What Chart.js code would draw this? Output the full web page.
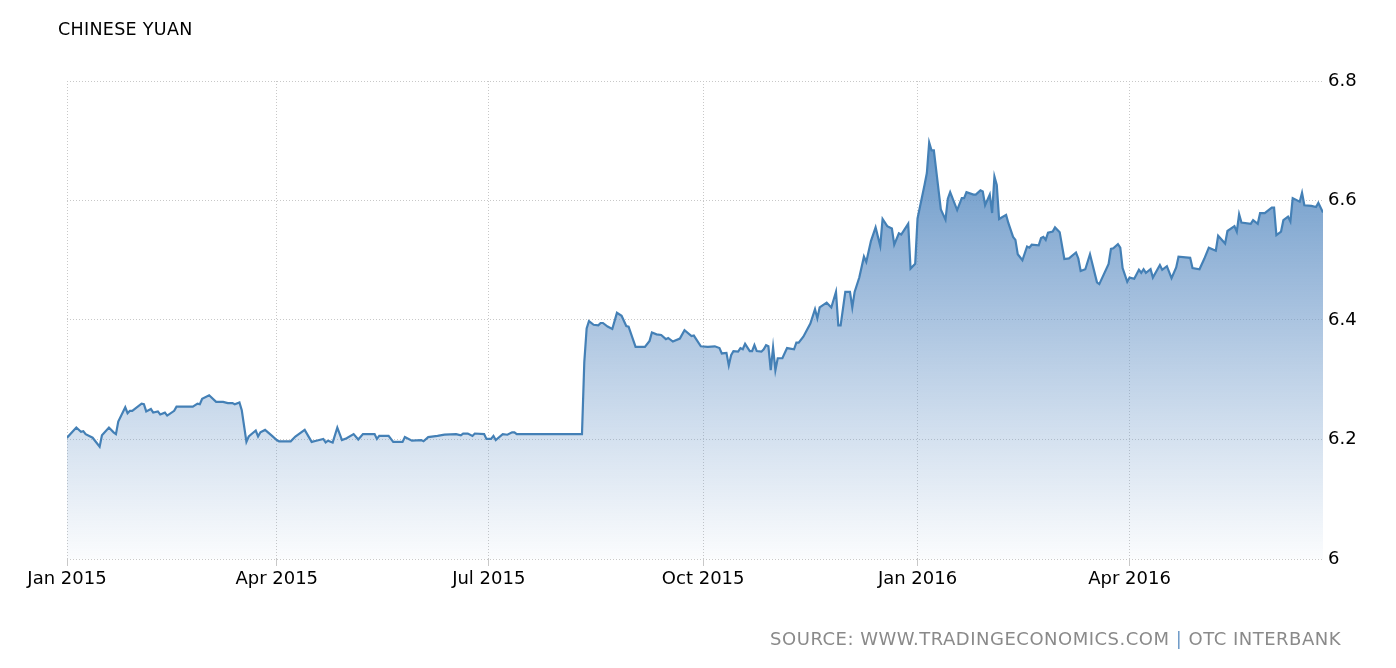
<!DOCTYPE html>
<html>
<head>
<meta charset="utf-8">
<title>Chinese Yuan</title>
<script src="https://cdn.jsdelivr.net/npm/chart.js@4.4.1/dist/chart.umd.min.js"></script>
<style>
  html, body { margin: 0; padding: 0; background: #fff; }
  #wrap { position: relative; width: 1396px; height: 668px; }
  #titulo {
    position: absolute; left: 58px; top: 19px;
    font: 17.5px "DejaVu Sans", sans-serif; color: #000; letter-spacing: 0.3px;
  }
  #fuente {
    position: absolute; right: 55px; top: 628px;
    font: 18px "DejaVu Sans", sans-serif; color: #8a8a8a; letter-spacing: 0.5px;
  }
  #fuente span { color: #6f9bc8; }
</style>
</head>
<body>
<div id="wrap">
  <canvas id="graficoYuan" width="1396" height="668"></canvas>
  <div id="titulo">CHINESE YUAN</div>
  <div id="fuente">SOURCE: WWW.TRADINGECONOMICS.COM <span>|</span> OTC INTERBANK</div>
</div>
<script>
// days since 1 Jan 2015
const dayOffsets = [
  0, 4, 6, 7, 8, 11, 14, 15, 18, 20, 21, 22, 25, 26, 27, 28, 32, 33, 34, 36,
  37, 39, 40, 42, 43, 46, 47, 50, 54, 56, 57, 58, 61, 64, 67, 69, 71, 72, 74, 75,
  77, 78, 81, 82, 83, 85, 88, 90, 91, 96, 98, 102, 105, 107, 110, 111, 112, 114, 116, 118,
  120, 123, 125, 127, 130, 132, 133, 134, 138, 140, 144, 145, 148, 152, 153, 155, 159, 162, 167, 169,
  170, 172, 174, 175, 179, 180, 182, 183, 184, 187, 189, 191, 192, 193, 200, 207, 214, 221, 222, 223,
  224, 226, 228, 229, 230, 232, 234, 236, 238, 240, 241, 244, 248, 250, 251, 253, 255, 257, 258, 260,
  263, 265, 268, 269, 272, 275, 278, 280, 281, 283, 284, 285, 286, 288, 289, 290, 291, 293, 294, 295,
  296, 298, 299, 300, 301, 302, 303, 304, 305, 307, 309, 312, 313, 314, 316, 319, 321, 322, 323, 326,
  328, 330, 331, 332, 334, 336, 337, 338, 340, 342, 343, 345, 347, 349, 350, 352, 354, 355, 357, 358,
  361, 362, 364, 365, 368, 369, 370, 371, 372, 375, 377, 378, 379, 382, 384, 385, 386, 389, 390, 392,
  393, 394, 396, 397, 398, 399, 400, 403, 404, 406, 407, 408, 410, 412, 413, 414, 417, 418, 419, 420,
  421, 423, 424, 426, 428, 430, 433, 434, 435, 437, 439, 442, 443, 447, 448, 449, 451, 452, 453, 455,
  456, 458, 460, 461, 462, 463, 465, 466, 469, 470, 472, 474, 476, 477, 482, 483, 486, 488, 490, 493,
  494, 497, 498, 501, 502, 503, 504, 508, 509, 511, 512, 514, 517, 518, 519, 521, 522, 524, 525, 526,
  529, 530, 531, 534, 536, 537, 539
];
const yuanRates = [
  6.203, 6.220, 6.213, 6.214, 6.209, 6.203, 6.188, 6.207, 6.220, 6.212, 6.209, 6.230, 6.254, 6.244, 6.248, 6.248, 6.260, 6.259, 6.247, 6.251,
  6.245, 6.247, 6.242, 6.245, 6.240, 6.248, 6.255, 6.255, 6.255, 6.260, 6.259, 6.268, 6.274, 6.263, 6.263, 6.261, 6.261, 6.259, 6.262, 6.249,
  6.196, 6.205, 6.215, 6.205, 6.212, 6.216, 6.206, 6.199, 6.197, 6.197, 6.205, 6.216, 6.196, 6.198, 6.201, 6.195, 6.198, 6.195, 6.220, 6.199,
  6.202, 6.209, 6.200, 6.209, 6.209, 6.209, 6.201, 6.206, 6.206, 6.196, 6.196, 6.204, 6.198, 6.199, 6.197, 6.204, 6.206, 6.208, 6.209, 6.207,
  6.210, 6.210, 6.206, 6.210, 6.209, 6.201, 6.201, 6.206, 6.199, 6.209, 6.208, 6.212, 6.212, 6.209, 6.209, 6.209, 6.209, 6.209, 6.330, 6.386,
  6.398, 6.392, 6.391, 6.395, 6.395, 6.389, 6.385, 6.412, 6.407, 6.390, 6.389, 6.355, 6.355, 6.365, 6.379, 6.376, 6.375, 6.368, 6.370, 6.364,
  6.369, 6.383, 6.373, 6.374, 6.356, 6.355, 6.356, 6.353, 6.344, 6.345, 6.324, 6.341, 6.348, 6.347, 6.353, 6.351, 6.360, 6.348, 6.348, 6.358,
  6.348, 6.347, 6.351, 6.358, 6.356, 6.316, 6.354, 6.316, 6.336, 6.336, 6.353, 6.351, 6.362, 6.362, 6.372, 6.394, 6.418, 6.403, 6.421, 6.429,
  6.421, 6.447, 6.391, 6.391, 6.447, 6.447, 6.421, 6.447, 6.471, 6.506, 6.497, 6.532, 6.555, 6.524, 6.569, 6.557, 6.553, 6.526, 6.545, 6.543,
  6.561, 6.486, 6.494, 6.570, 6.626, 6.646, 6.697, 6.684, 6.684, 6.585, 6.568, 6.603, 6.614, 6.584, 6.604, 6.604, 6.614, 6.610, 6.610, 6.617,
  6.615, 6.592, 6.610, 6.579, 6.640, 6.626, 6.569, 6.576, 6.562, 6.539, 6.534, 6.510, 6.500, 6.523, 6.521, 6.526, 6.525, 6.537, 6.539, 6.534,
  6.546, 6.548, 6.555, 6.547, 6.502, 6.503, 6.513, 6.503, 6.482, 6.485, 6.510, 6.463, 6.460, 6.494, 6.519, 6.520, 6.527, 6.521, 6.487, 6.464,
  6.471, 6.469, 6.484, 6.479, 6.485, 6.479, 6.485, 6.471, 6.492, 6.484, 6.490, 6.470, 6.488, 6.506, 6.504, 6.487, 6.485, 6.502, 6.521, 6.516,
  6.541, 6.528, 6.549, 6.557, 6.548, 6.577, 6.563, 6.561, 6.567, 6.561, 6.579, 6.579, 6.588, 6.588, 6.542, 6.548, 6.567, 6.573, 6.565, 6.604,
  6.598, 6.613, 6.592, 6.591, 6.589, 6.596, 6.580
];
const tickDays = [0, 90, 181, 273, 365, 456];
const tickLabels = ["Jan 2015", "Apr 2015", "Jul 2015", "Oct 2015", "Jan 2016", "Apr 2016"];
const yTicks = [6, 6.2, 6.4, 6.6, 6.8];

const puntos = dayOffsets.map((d, i) => ({ x: d, y: yuanRates[i] }));

function degradado(context) {
  const chart = context.chart;
  const area = chart.chartArea;
  if (!area) return "rgba(70,130,180,0.4)";
  const g = chart.ctx.createLinearGradient(0, area.top, 0, area.bottom);
  g.addColorStop(0, "rgba(65,125,185,0.95)");
  g.addColorStop(0.45, "rgba(105,150,200,0.62)");
  g.addColorStop(1, "rgba(120,160,205,0.03)");
  return g;
}

const etiqueta = { family: "DejaVu Sans", size: 18 };

new Chart(document.getElementById("graficoYuan").getContext("2d"), {
  type: "line",
  data: {
    datasets: [{
      data: puntos,
      borderColor: "#4480b6",
      borderWidth: 2.2,
      pointRadius: 0,
      tension: 0,
      fill: "start",
      backgroundColor: degradado
    }]
  },
  options: {
    responsive: false,
    animation: false,
    layout: { padding: { left: 67, top: 81, right: 0, bottom: 0 } },
    plugins: { legend: { display: false }, tooltip: { enabled: false } },
    scales: {
      x: {
        type: "linear",
        min: 0,
        max: 539,
        afterBuildTicks: scale => { scale.ticks = tickDays.map(v => ({ value: v })); },
        afterFit: scale => { scale.height = 109; },
        ticks: {
          autoSkip: false,
          maxRotation: 0,
          padding: 3,
          color: "#000",
          font: etiqueta,
          callback: value => tickLabels[tickDays.indexOf(value)]
        },
        grid: { color: "#c8c8c8", tickLength: 7, lineWidth: 1 },
        border: { display: false, dash: [1, 2] }
      },
      y: {
        position: "right",
        min: 6,
        max: 6.8,
        afterBuildTicks: scale => { scale.ticks = yTicks.map(v => ({ value: v })); },
        afterFit: scale => { scale.width = 73; },
        ticks: {
          padding: 5,
          color: "#000",
          font: etiqueta,
          callback: value => String(value)
        },
        grid: { color: "#c8c8c8", drawTicks: false, lineWidth: 1 },
        border: { display: false, dash: [1, 2] }
      }
    }
  }
});
</script>
</body>
</html>
